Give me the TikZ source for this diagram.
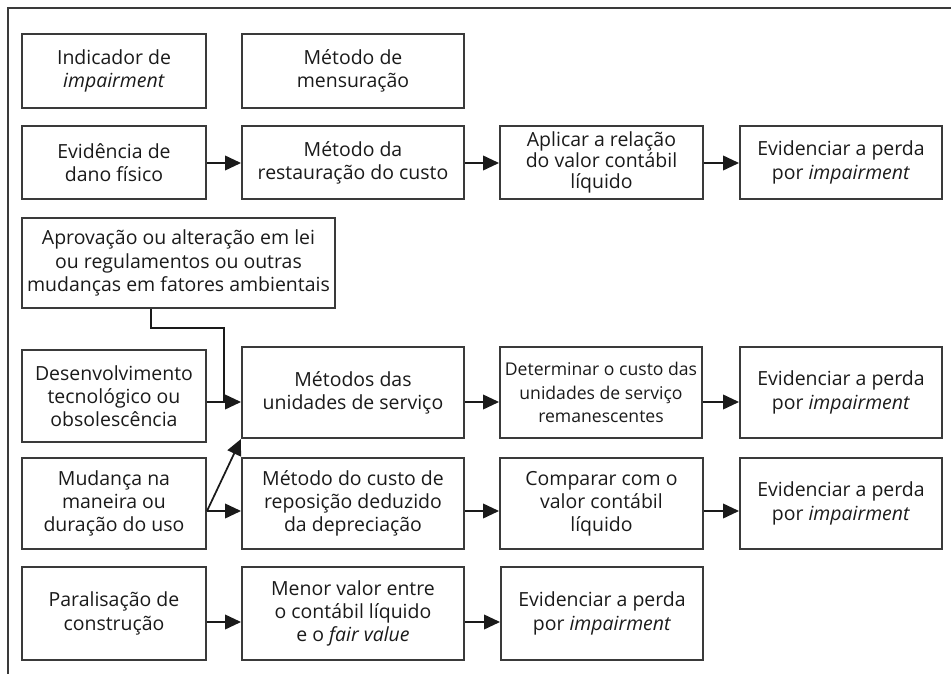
\documentclass[tikz,border=0pt]{standalone}
\usepackage{fontspec}
\setmainfont{Open Sans}
\usetikzlibrary{arrows.meta,calc}
\definecolor{edge}{HTML}{3A3A3A}
\definecolor{ink}{HTML}{1A1A1A}
\tikzset{
  box/.style={draw=edge,line width=1.5pt,inner sep=0pt,align=center,text=ink,
    font=\fontsize{14.6}{17.4}\selectfont},
  arr/.style={draw=ink,line width=1.3pt,-{Triangle[length=12pt,width=11pt]}},
  link/.style={draw=ink,line width=1.3pt},
}
\begin{document}
\begin{tikzpicture}[x=0.75pt,y=-0.75pt]
\useasboundingbox (0,0) rectangle (951,674);
\draw[edge,line width=1.5pt] (8,674) -- (8,8) -- (951,8);
% row 1
\node[box,minimum width=184*0.75pt,minimum height=74*0.75pt] (ind) at (114,71) {Indicador de\\\textit{impairment}};
\node[box,minimum width=222*0.75pt,minimum height=74*0.75pt] (met) at (353,71) {Método de\\mensuração};
% row 2
\node[box,minimum width=184*0.75pt,minimum height=73*0.75pt] (evi) at (114,162.5) {Evidência de\\dano físico};
\node[box,minimum width=222*0.75pt,minimum height=73*0.75pt] (res) at (353,162.5) {Método da\\restauração do custo};
\node[box,minimum width=203*0.75pt,minimum height=73*0.75pt,font=\fontsize{14.6}{15.8}\selectfont] (apl) at (601.5,162.5) {Aplicar a relação\\do valor contábil\\líquido};
\node[box,minimum width=202*0.75pt,minimum height=73*0.75pt] (ev1) at (841,162.5) {Evidenciar a perda\\por \textit{impairment}};
% row: aprovacao
\node[box,minimum width=313*0.75pt,minimum height=90*0.75pt] (apr) at (178.5,263) {Aprovação ou alteração em lei\\ou regulamentos ou outras\\mudanças em fatores ambientais};
% row 3
\node[box,minimum width=184*0.75pt,minimum height=92*0.75pt] (des) at (114,396) {Desenvolvimento\\tecnológico ou\\obsolescência};
\node[box,minimum width=222*0.75pt,minimum height=91*0.75pt] (uni) at (353,392.5) {Métodos das\\unidades de serviço};
\node[box,minimum width=202*0.75pt,minimum height=91*0.75pt,font=\fontsize{13.2}{17.4}\selectfont] (det) at (601,392.5) {Determinar o custo das\\unidades de serviço\\remanescentes};
\node[box,minimum width=202*0.75pt,minimum height=91*0.75pt] (ev2) at (841,392.5) {Evidenciar a perda\\por \textit{impairment}};
% row 4
\node[box,minimum width=184*0.75pt,minimum height=91*0.75pt] (mud) at (114,503.5) {Mudança na\\maneira ou\\duração do uso};
\node[box,minimum width=222*0.75pt,minimum height=91*0.75pt] (cus) at (353,503.5) {Método do custo de\\reposição deduzido\\da depreciação};
\node[box,minimum width=203*0.75pt,minimum height=91*0.75pt] (com) at (601.5,503.5) {Comparar com o\\valor contábil\\líquido};
\node[box,minimum width=202*0.75pt,minimum height=91*0.75pt] (ev3) at (841,503.5) {Evidenciar a perda\\por \textit{impairment}};
% row 5
\node[box,minimum width=184*0.75pt,minimum height=93*0.75pt] (par) at (114,613.5) {Paralisação de\\construção};
\node[box,minimum width=222*0.75pt,minimum height=93*0.75pt] (men) at (353,613.5) {Menor valor entre\\o contábil líquido\\e o \textit{fair value}};
\node[box,minimum width=202*0.75pt,minimum height=93*0.75pt] (ev4) at (602,613.5) {Evidenciar a perda\\por \textit{impairment}};
% arrow levels
\coordinate (r2) at (0,163);
\coordinate (r3) at (0,402);
\coordinate (r4) at (0,511);
\coordinate (r5) at (0,622);
\coordinate (k1) at (151,328);
\coordinate (k2) at (224,328);
\coordinate (k3) at (224,402);
% connectors
\draw[arr] (evi.east |- r2) -- (res.west |- r2);
\draw[arr] (res.east |- r2) -- (apl.west |- r2);
\draw[arr] (apl.east |- r2) -- (ev1.west |- r2);
\draw[link] (apr.south -| k1) -- (k1) -- (k2) -- (k3);
\draw[arr] (des.east |- r3) -- (uni.west |- r3);
\draw[arr] (uni.east |- r3) -- (det.west |- r3);
\draw[arr] (det.east |- r3) -- (ev2.west |- r3);
\draw[arr] (mud.east |- r4) -- (uni.south west);
\draw[arr] (mud.east |- r4) -- (cus.west |- r4);
\draw[arr] (cus.east |- r4) -- (com.west |- r4);
\draw[arr] (com.east |- r4) -- (ev3.west |- r4);
\draw[arr] (par.east |- r5) -- (men.west |- r5);
\draw[arr] (men.east |- r5) -- (ev4.west |- r5);
\end{tikzpicture}
\end{document}
